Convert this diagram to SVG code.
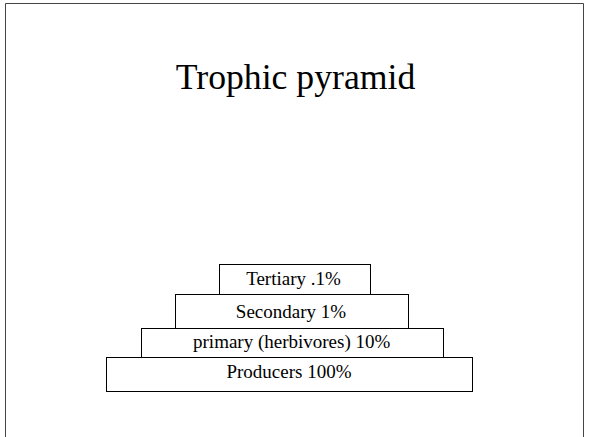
<svg xmlns="http://www.w3.org/2000/svg" width="589" height="437" viewBox="0 0 589 437">
<style>
.box{fill:#fff;stroke:#000;stroke-width:1}
.lbl{font-family:"Liberation Serif","Times New Roman",serif;font-size:19px;text-anchor:middle;fill:#000}
.title{font-family:"Liberation Serif","Times New Roman",serif;font-size:35.7px;text-anchor:middle;fill:#000}
</style>
<rect x="0" y="0" width="589" height="437" fill="#fff"/>
<path d="M5.5,440 V3.5 H583.5 V440" fill="none" stroke="#444" stroke-width="1"/>
<text class="title" x="295.5" y="88.5">Trophic pyramid</text>
<g id="producers"><rect class="box" x="106.5" y="357.5" width="366" height="34"/><text class="lbl" x="289" y="378">Producers 100%</text></g>
<g id="primary"><rect class="box" x="141.5" y="328.5" width="302" height="29"/><text class="lbl" x="291.7" y="348">primary (herbivores) 10%</text></g>
<g id="secondary"><rect class="box" x="175.5" y="294.5" width="233" height="34"/><text class="lbl" x="291" y="318">Secondary 1%</text></g>
<g id="tertiary"><rect class="box" x="219.5" y="264.5" width="151" height="30"/><text class="lbl" x="293.5" y="285">Tertiary .1%</text></g>
<g id="connectors"></g>
</svg>
